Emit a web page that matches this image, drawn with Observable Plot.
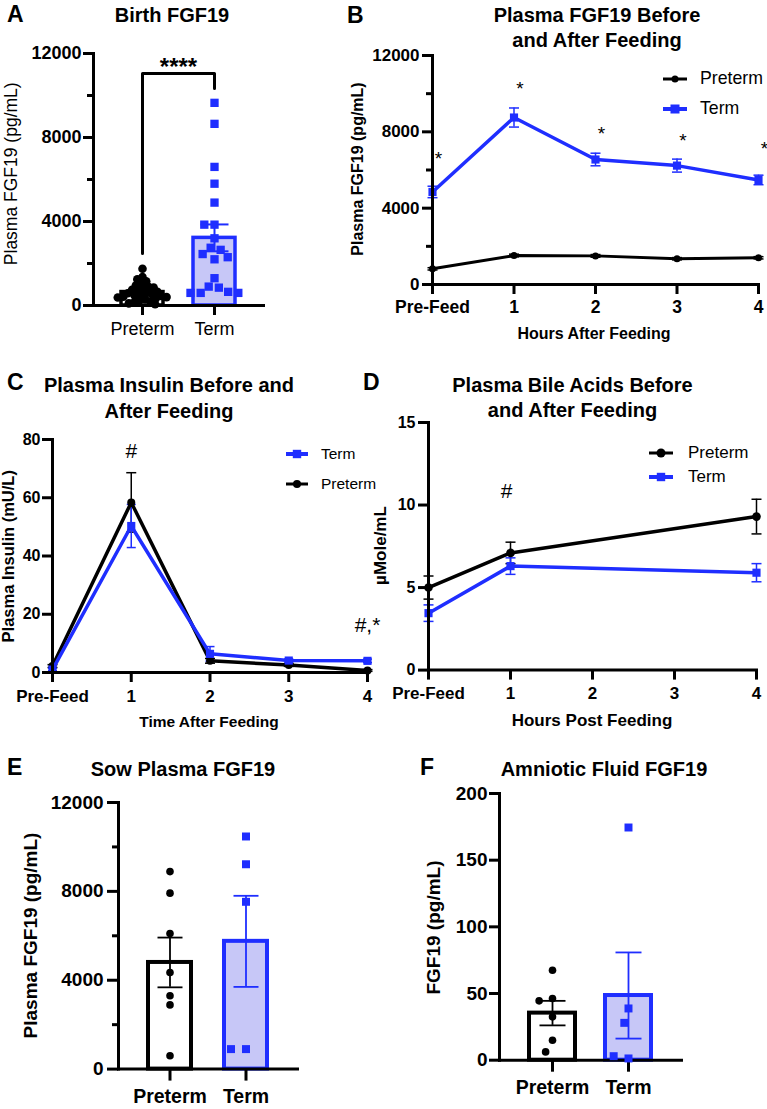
<!DOCTYPE html>
<html>
<head>
<meta charset="utf-8">
<script src="https://cdn.jsdelivr.net/npm/d3@7"></script>
<script src="https://cdn.jsdelivr.net/npm/@observablehq/plot@0.6"></script>
<style>
  body { margin: 0; background: #fff; }
  #fig { position: relative; width: 767px; height: 1109px; overflow: hidden; background: #fff; color: #000;
         font-family: "Liberation Sans", Arial, Helvetica, sans-serif; }
</style>
</head>
<body>
<div id="fig"></div>
<script>
// ================= DATA =================
const groups = ["Preterm", "Term"];
const hourTicks = [0, 1, 2, 3, 4];
const hourLabels = ["Pre-Feed", "1", "2", "3", "4"];

// A — Birth FGF19 (pg/mL)
const birthPreterm = [1750, 1350, 1250, 1150, 1050, 950, 900, 850, 800, 750, 700, 650, 600, 580, 550, 500, 480, 450, 420, 400, 380, 350, 300, 250, 200, 150, 100, 60];
const birthTerm = [9650, 8650, 6600, 5800, 4900, 3850, 3850, 3200, 2750, 2650, 2450, 2300, 2200, 1300, 900, 850, 650, 600, 600, 600];
const birthMean = [640, 3220];
const birthSem = [75, 640];
const bracketGroup = ["Preterm", "Preterm", "Term", "Term"];
const bracketValue = [2480, 11050, 11050, 10330];
const birthStars = ["****"];

// B — Plasma FGF19 before/after feeding
const fgfPretermMean = [820, 1520, 1500, 1350, 1400];
const fgfPretermSem = [60, 70, 70, 60, 60];
const fgfTermMean = [4850, 8750, 6550, 6230, 5480];
const fgfTermSem = [300, 500, 330, 340, 250];
const fgfStarValue = [6800, 10450, 8080, 7760, 7290];

// C — Plasma insulin (mU/L)
const insPretermMean = [2.2, 58.4, 4.0, 2.6, 0.7];
const insPretermSem = [0.5, 10.2, 0.8, 0.5, 0.3];
const insTermMean = [1.0, 50.3, 6.4, 4.1, 4.0];
const insTermSem = [0.4, 7.4, 2.5, 0.6, 0.6];
const insNoteHour = [1, 4];
const insNoteValue = [76, 16.1];
const insNoteText = ["#", "#,*"];

// D — Plasma bile acids (µMole/mL)
const baHours = [0, 1, 4];
const baPretermMean = [5.0, 7.1, 9.3];
const baPretermSem = [0.7, 0.65, 1.05];
const baTermMean = [3.45, 6.3, 5.9];
const baTermSem = [0.5, 0.5, 0.55];
const baNoteHour = [1];
const baNoteValue = [10.85];
const baNoteText = ["#"];

// E — Sow plasma FGF19 (pg/mL)
const sowPreterm = [8890, 7920, 6100, 4350, 3300, 2890, 600];
const sowTerm = [10470, 9220, 7530, 900, 900];
const sowMean = [4800, 5750];
const sowSem = [1120, 2050];

// F — Amniotic fluid FGF19 (pg/mL)
const afPreterm = [67.5, 46.3, 44.5, 32.5, 15, 6.2];
const afTerm = [174.5, 38.8, 28, 1.3, 3];
const afMean = [35.3, 48.5];
const afSem = [9.2, 32.3];

// ================= STYLE / HELPERS =================
const FONT = '"Liberation Sans", Arial, Helvetica, sans-serif';
const BLUE = "#1f2eff";
const LAV = "#c7c7f7";
const AX = 3;
const fig = document.getElementById("fig");

function put(node, left, top) {
  node.style.position = "absolute";
  node.style.left = left + "px";
  node.style.top = top + "px";
  fig.appendChild(node);
  return node;
}
function label(str, {x, baseline, size = 20, weight = "bold", anchor = "middle"}) {
  const d = document.createElement("div");
  d.textContent = str;
  Object.assign(d.style, {fontSize: size + "px", lineHeight: size + "px", fontWeight: weight,
    whiteSpace: "nowrap", fontFamily: FONT});
  const top = baseline - 0.8465 * size;
  if (anchor === "middle") { d.style.width = "600px"; d.style.textAlign = "center"; put(d, x - 300, top); }
  else put(d, x, top);
}
function vlabel(str, {cx, cy, size = 16, weight = "bold"}) {
  const d = document.createElement("div");
  d.textContent = str;
  Object.assign(d.style, {fontSize: size + "px", lineHeight: size + "px", fontWeight: weight,
    whiteSpace: "nowrap", fontFamily: FONT, width: "600px", textAlign: "center",
    transform: "rotate(-90deg)", transformOrigin: "50% 50%"});
  put(d, cx - 300, cy - size / 2);
}
function legendItem({x1, x2, tx, y, color, symbol, r, lw, text, size}) {
  const ns = "http://www.w3.org/2000/svg";
  const pad = 8, w = x2 - x1 + 2 * pad, h = 24;
  const svg = document.createElementNS(ns, "svg");
  svg.setAttribute("width", w); svg.setAttribute("height", h);
  const ln = document.createElementNS(ns, "line");
  ln.setAttribute("x1", pad); ln.setAttribute("x2", w - pad);
  ln.setAttribute("y1", h / 2); ln.setAttribute("y2", h / 2);
  ln.setAttribute("stroke", color); ln.setAttribute("stroke-width", lw);
  svg.appendChild(ln);
  let m;
  if (symbol === "circle") {
    m = document.createElementNS(ns, "circle");
    m.setAttribute("cx", w / 2); m.setAttribute("cy", h / 2); m.setAttribute("r", r);
  } else {
    m = document.createElementNS(ns, "rect");
    m.setAttribute("x", w / 2 - r); m.setAttribute("y", h / 2 - r);
    m.setAttribute("width", 2 * r); m.setAttribute("height", 2 * r);
  }
  m.setAttribute("fill", color);
  svg.appendChild(m);
  put(svg, x1 - pad, y - h / 2);
  label(text, {x: tx, baseline: y + 0.36 * size, size, weight: "normal", anchor: "start"});
}

// error-bar cap as a custom symbol (horizontal stroke, half-width = r)
const cap = {draw(ctx, size) { const w = Math.sqrt(size / Math.PI); ctx.moveTo(-w, 0); ctx.lineTo(w, 0); }};

function bandLayout(left, c1, c2, bw) {
  const step = c2 - c1;
  const paddingInner = 1 - bw / step;
  const paddingOuter = (c1 - left - bw / 2) / step;
  return {paddingInner, paddingOuter, frameW: step * (2 - paddingInner + 2 * paddingOuter)};
}

const svgStyle = {fontFamily: FONT, fontWeight: "bold", background: "transparent", overflow: "visible", color: "#000"};

function barPanel(p) {
  const {paddingInner, paddingOuter, frameW} = bandLayout(p.left, p.c1, p.c2, p.bw);
  const mL = 80, mR = 20, mT = 30, mB = 50;
  const W = mL + frameW + mR, H = mT + (p.bottom - p.top) + mB;
  const stats = groups.map((g, i) => ({group: g, mean: p.mean[i], lo: p.mean[i] - p.sem[i], hi: p.mean[i] + p.sem[i]}));
  const sPre = stats.filter(d => d.group === "Preterm");
  const sTerm = stats.filter(d => d.group === "Term");
  const common = {width: W, height: H, marginLeft: mL, marginRight: mR, marginTop: mT, marginBottom: mB};
  const ebar = (rows, color) => [
    Plot.ruleX(rows, {x: "group", y1: "lo", y2: "hi", stroke: color, strokeWidth: p.ebW}),
    Plot.dot(rows, {x: "group", y: "lo", symbol: cap, r: p.capR, stroke: color, strokeWidth: p.ebW, fill: "none"}),
    Plot.dot(rows, {x: "group", y: "hi", symbol: cap, r: p.capR, stroke: color, strokeWidth: p.ebW, fill: "none"})
  ];
  const base = Plot.plot({
    ...common,
    style: svgStyle,
    x: {domain: groups, paddingInner, paddingOuter},
    y: {domain: p.yDomain},
    marks: [
      Plot.barY(sPre, {x: "group", y: "mean", fill: "white", stroke: "black", strokeWidth: p.barStroke}),
      Plot.barY(sTerm, {x: "group", y: "mean", fill: LAV, stroke: BLUE, strokeWidth: p.barStroke}),
      ...ebar(sPre, "black"),
      ...ebar(sTerm, BLUE),
      ...(p.extra || []),
      Plot.frame({anchor: "left", stroke: "black", strokeWidth: AX, strokeLinecap: "square"}),
      Plot.frame({anchor: "bottom", stroke: "black", strokeWidth: AX, strokeLinecap: "square"}),
      ...(p.yMinor ? [Plot.axisY({ticks: p.yMinor, tickSize: 6, tickFormat: () => "", stroke: "black", strokeWidth: AX, label: null})] : []),
      Plot.axisY({ticks: p.yTicks, tickSize: p.yTick, tickPadding: p.yPad, tickFormat: "d", stroke: "black", strokeWidth: AX,
        fontSize: p.yFont, fontWeight: "bold", label: null}),
      Plot.axisX({tickSize: p.xTick, tickPadding: p.xPad, stroke: "black", strokeWidth: AX, fontSize: p.xFont,
        fontWeight: p.xWeight, label: null})
    ]
  });
  put(base, p.left - mL, p.top - mT);

  const ptsPre = p.pre.map(v => ({group: "Preterm", value: v}));
  const ptsTerm = p.term.map(v => ({group: "Term", value: v}));
  const over = Plot.plot({
    ...common,
    style: {background: "transparent", overflow: "visible"},
    fx: {domain: groups, paddingInner, paddingOuter, axis: null, label: null},
    y: {domain: p.yDomain, axis: null},
    marks: [
      Plot.dot(ptsPre, Plot.dodgeX({anchor: "middle", padding: p.padPre},
        {fx: "group", y: "value", r: p.rPre, fill: "black", symbol: "circle"})),
      Plot.dot(ptsTerm, Plot.dodgeX({anchor: "middle", padding: p.padTerm},
        {fx: "group", y: "value", r: p.rTerm, fill: BLUE, symbol: "square"}))
    ]
  });
  put(over, p.left - mL, p.top - mT);
}

function linePanel(p) {
  const mL = 80, mR = 30, mT = 30, mB = 50;
  const W = mL + (p.right - p.left) + mR, H = mT + (p.bottom - p.top) + mB;
  const rowsOf = s => s.x.map((x, i) => ({x, m: s.mean[i], lo: s.mean[i] - s.sem[i], hi: s.mean[i] + s.sem[i]}));
  const marks = [];
  for (const s of p.series) {
    const rows = rowsOf(s);
    marks.push(
      Plot.ruleX(rows, {x: "x", y1: "lo", y2: "hi", stroke: s.color, strokeWidth: s.ebW}),
      Plot.dot(rows, {x: "x", y: "lo", symbol: cap, r: s.capR, stroke: s.color, strokeWidth: s.ebW, fill: "none"}),
      Plot.dot(rows, {x: "x", y: "hi", symbol: cap, r: s.capR, stroke: s.color, strokeWidth: s.ebW, fill: "none"})
    );
  }
  for (const s of p.series) {
    const rows = rowsOf(s);
    marks.push(
      Plot.line(rows, {x: "x", y: "m", stroke: s.color, strokeWidth: s.lw}),
      Plot.dot(rows, {x: "x", y: "m", r: s.r, symbol: s.symbol, fill: s.color})
    );
  }
  for (const n of (p.notes || [])) {
    const rows = n.x.map((x, i) => ({x, y: n.y[i], t: n.text[i]}));
    marks.push(Plot.text(rows, {x: "x", y: "y", text: "t", fontSize: n.size, fontWeight: "normal", dx: n.dx, dy: n.dy || 0,
      lineAnchor: "middle", textAnchor: "middle", fill: "black"}));
  }
  marks.push(
    Plot.frame({anchor: "left", stroke: "black", strokeWidth: AX, strokeLinecap: "square"}),
    Plot.frame({anchor: "bottom", stroke: "black", strokeWidth: AX, strokeLinecap: "square"}),
    ...(p.yMinor ? [Plot.axisY({ticks: p.yMinor, tickSize: 6, tickFormat: () => "", stroke: "black", strokeWidth: AX, label: null})] : []),
    Plot.axisY({ticks: p.yTicks, tickSize: p.yTick, tickPadding: p.yPad, tickFormat: "d", stroke: "black", strokeWidth: AX,
      fontSize: p.yFont, fontWeight: "bold", label: null}),
    Plot.axisX({ticks: hourTicks, tickFormat: i => hourLabels[i], tickSize: p.xTick, tickPadding: p.xPad,
      stroke: "black", strokeWidth: AX, fontSize: p.xFont, fontWeight: "bold", label: null})
  );
  const svg = Plot.plot({
    width: W, height: H, marginLeft: mL, marginRight: mR, marginTop: mT, marginBottom: mB,
    style: svgStyle,
    x: {domain: [0, 4]},
    y: {domain: p.yDomain},
    marks
  });
  put(svg, p.left - mL, p.top - mT);
}

// ================= PANEL A =================
barPanel({
  left: 93, top: 53, bottom: 305, c1: 142, c2: 214, bw: 42,
  yDomain: [0, 12000], yTicks: [0, 4000, 8000, 12000], yMinor: [2000, 6000, 10000],
  mean: birthMean, sem: birthSem, pre: birthPreterm, term: birthTerm,
  barStroke: 3.5, ebW: 2, capR: 14,
  rPre: 4.3, padPre: -3, rTerm: 4.7, padTerm: 0.8,
  yTick: 10, yPad: 2, yFont: 18, xTick: 10, xPad: 7, xFont: 18, xWeight: "normal",
  extra: [
    Plot.line(bracketValue.map((v, i) => ({group: bracketGroup[i], v})),
      {x: "group", y: "v", stroke: "black", strokeWidth: AX}),
    Plot.text(birthStars, {text: d => d, frameAnchor: "top", lineAnchor: "bottom", dy: 21,
      fontSize: 24, fontWeight: "bold", fill: "black"})
  ]
});
label("A", {x: 7, baseline: 22, size: 23, anchor: "start"});
label("Birth FGF19", {x: 172, baseline: 22, size: 20});
vlabel("Plasma FGF19 (pg/mL)", {cx: 12, cy: 174, size: 17.5, weight: "normal"});

// ================= PANEL B =================
linePanel({
  left: 432, right: 758, top: 55, bottom: 284,
  yDomain: [0, 12000], yTicks: [0, 4000, 8000, 12000], yMinor: [2000, 6000, 10000],
  yTick: 10, yPad: 3, yFont: 17, xTick: 10, xPad: 6, xFont: 17.5,
  series: [
    {x: hourTicks, mean: fgfPretermMean, sem: fgfPretermSem, color: "black", symbol: "circle", r: 3.5, lw: 3, ebW: 1.5, capR: 5},
    {x: hourTicks, mean: fgfTermMean, sem: fgfTermSem, color: BLUE, symbol: "square", r: 4.6, lw: 3.5, ebW: 1.5, capR: 5}
  ],
  notes: [{x: hourTicks, y: fgfStarValue, text: hourTicks.map(() => "*"), size: 19, dx: 6, dy: 4}]
});
label("B", {x: 347, baseline: 23, size: 23, anchor: "start"});
label("Plasma FGF19 Before", {x: 597, baseline: 22, size: 20});
label("and After Feeding", {x: 597, baseline: 47, size: 20});
vlabel("Plasma FGF19 (pg/mL)", {cx: 358, cy: 169, size: 16});
label("Hours After Feeding", {x: 594, baseline: 340, size: 16});
legendItem({x1: 663, x2: 687, tx: 700, y: 79, color: "black", symbol: "circle", r: 3.5, lw: 3, text: "Preterm", size: 17.7});
legendItem({x1: 663, x2: 687, tx: 700, y: 109, color: BLUE, symbol: "square", r: 4.5, lw: 4, text: "Term", size: 17.7});

// ================= PANEL C =================
linePanel({
  left: 52, right: 367, top: 439, bottom: 672,
  yDomain: [0, 80], yTicks: [0, 20, 40, 60, 80],
  yTick: 10, yPad: 2, yFont: 16, xTick: 10, xPad: 7, xFont: 17,
  series: [
    {x: hourTicks, mean: insPretermMean, sem: insPretermSem, color: "black", symbol: "circle", r: 4, lw: 3.5, ebW: 1.5, capR: 5},
    {x: hourTicks, mean: insTermMean, sem: insTermSem, color: BLUE, symbol: "square", r: 4.6, lw: 3.5, ebW: 1.5, capR: 4.5}
  ],
  notes: [{x: insNoteHour, y: insNoteValue, text: insNoteText, size: 21, dx: 0, dy: 0}]
});
label("C", {x: 7, baseline: 390, size: 23, anchor: "start"});
label("Plasma Insulin Before and", {x: 169, baseline: 391.5, size: 20});
label("After Feeding", {x: 169, baseline: 418, size: 20});
vlabel("Plasma Insulin (mU/L)", {cx: 8, cy: 556, size: 16.5});
label("Time After Feeding", {x: 209, baseline: 727.5, size: 15.5});
legendItem({x1: 286, x2: 308, tx: 321, y: 454, color: BLUE, symbol: "square", r: 4.2, lw: 4, text: "Term", size: 15.5});
legendItem({x1: 286, x2: 308, tx: 321, y: 484, color: "black", symbol: "circle", r: 4, lw: 3, text: "Preterm", size: 15.5});

// ================= PANEL D =================
linePanel({
  left: 428, right: 756, top: 421.7, bottom: 669.3,
  yDomain: [0, 15], yTicks: [0, 5, 10, 15],
  yTick: 10, yPad: 3, yFont: 16, xTick: 10, xPad: 7, xFont: 17,
  series: [
    {x: baHours, mean: baPretermMean, sem: baPretermSem, color: "black", symbol: "circle", r: 4.3, lw: 3.5, ebW: 1.5, capR: 5},
    {x: baHours, mean: baTermMean, sem: baTermSem, color: BLUE, symbol: "square", r: 4.6, lw: 3.5, ebW: 1.5, capR: 5}
  ],
  notes: [{x: baNoteHour, y: baNoteValue, text: baNoteText, size: 21, dx: -4, dy: 0}]
});
label("D", {x: 363, baseline: 390, size: 23, anchor: "start"});
label("Plasma Bile Acids Before", {x: 572.5, baseline: 391.5, size: 20});
label("and After Feeding", {x: 572.5, baseline: 417.3, size: 20});
vlabel("µMole/mL", {cx: 380, cy: 545, size: 17});
label("Hours Post Feeding", {x: 592, baseline: 726.5, size: 17});
legendItem({x1: 649, x2: 673, tx: 688, y: 452.7, color: "black", symbol: "circle", r: 4.5, lw: 3, text: "Preterm", size: 17});
legendItem({x1: 649, x2: 673, tx: 688, y: 476.7, color: BLUE, symbol: "square", r: 4.2, lw: 4, text: "Term", size: 17});

// ================= PANEL E =================
barPanel({
  left: 118, top: 801.7, bottom: 1068.3, c1: 169, c2: 246, bw: 43.5,
  yDomain: [0, 12000], yTicks: [0, 4000, 8000, 12000], yMinor: [2000, 6000, 10000],
  mean: sowMean, sem: sowSem, pre: sowPreterm, term: sowTerm,
  barStroke: 4, ebW: 1.8, capR: 12.5,
  rPre: 3.8, padPre: 1, rTerm: 4.5, padTerm: 6,
  yTick: 11, yPad: 4, yFont: 19, xTick: 12, xPad: 8, xFont: 19.5, xWeight: "bold"
});
label("E", {x: 7, baseline: 775, size: 23, anchor: "start"});
label("Sow Plasma FGF19", {x: 183, baseline: 776, size: 20});
vlabel("Plasma FGF19 (pg/mL)", {cx: 30, cy: 935, size: 19});

// ================= PANEL F =================
barPanel({
  left: 499, top: 793.3, bottom: 1060, c1: 552, c2: 628, bw: 45.5,
  yDomain: [0, 200], yTicks: [0, 50, 100, 150, 200],
  mean: afMean, sem: afSem, pre: afPreterm, term: afTerm,
  barStroke: 4, ebW: 1.8, capR: 13,
  rPre: 3.8, padPre: 6, rTerm: 4.5, padTerm: 6,
  yTick: 10, yPad: 2, yFont: 19, xTick: 12, xPad: 8, xFont: 19.5, xWeight: "bold"
});
label("F", {x: 420, baseline: 775, size: 23, anchor: "start"});
label("Amniotic Fluid FGF19", {x: 604, baseline: 776, size: 20});
vlabel("FGF19 (pg/mL)", {cx: 433, cy: 927, size: 19});
</script>
</body>
</html>
